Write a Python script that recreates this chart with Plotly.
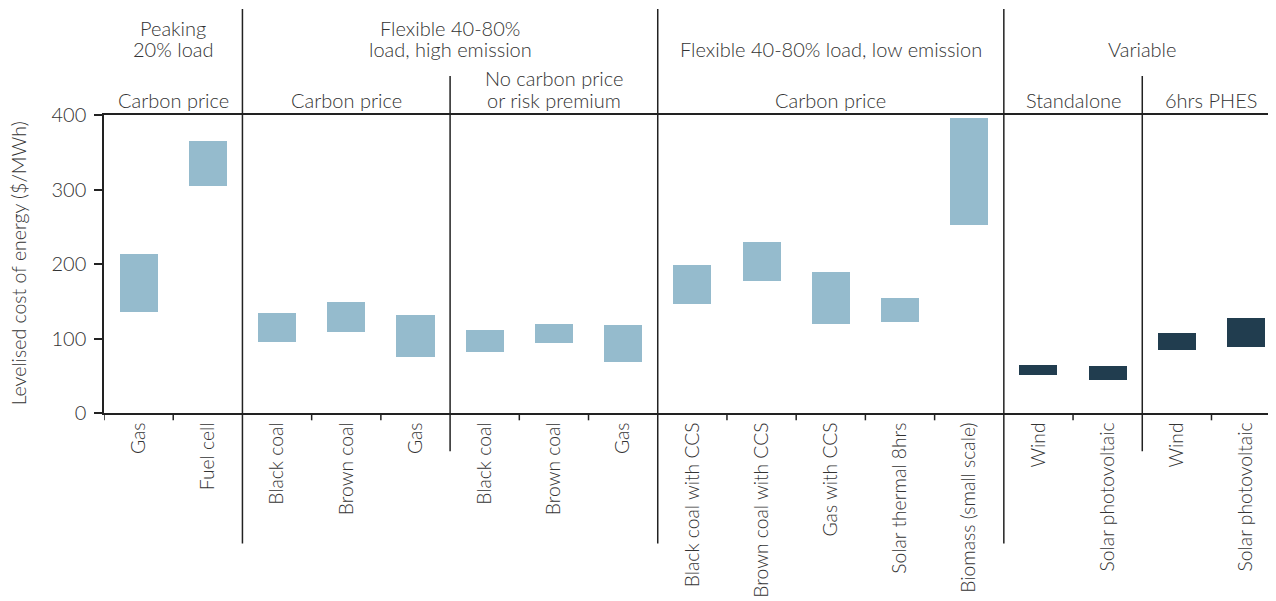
import plotly.graph_objects as go

categories = ["Gas", "Fuel cell",
              "Black coal", "Brown coal", "Gas",
              "Black coal", "Brown coal", "Gas",
              "Black coal with CCS", "Brown coal with CCS", "Gas with CCS",
              "Solar thermal 8hrs", "Biomass (small scale)",
              "Wind", "Solar photovoltaic",
              "Wind", "Solar photovoltaic"]
low_values = [135, 305, 95, 109, 75, 82, 94, 68, 146, 177, 119, 122, 252, 51, 44, 85, 89]
high_values = [213, 365, 134, 149, 131, 111, 120, 118, 198, 229, 189, 155, 396, 64, 63, 107, 128]
is_variable = [False] * 13 + [True] * 4

top_groups = [("Peaking<br>20% load", 0, 1),
              ("Flexible 40-80%<br>load, high emission", 2, 7),
              ("Flexible 40-80% load, low emission", 8, 12),
              ("Variable", 13, 16)]
sub_groups = [("Carbon price", 0, 1),
              ("Carbon price", 2, 4),
              ("No carbon price<br>or risk premium", 5, 7),
              ("Carbon price", 8, 12),
              ("Standalone", 13, 14),
              ("6hrs PHES", 15, 16)]
y_ticks = [0, 100, 200, 300, 400]

LIGHT = "#95BBCD"
DARK = "#213D4F"
INK = "#333333"
LINE = "#222222"
FONT = "Lato"
FS = 20
FW = 300

# the page body adds an 8px margin; the figure is sized so that it fills the window
OFF = 8
W, H = 1276 - OFF, 601 - OFF
PLOT_LEFT = 104.3          # in window pixels
PLOT_TOP, PLOT_BOTTOM = 115, 412.7
PH = PLOT_BOTTOM - PLOT_TOP
PW = 1276 - PLOT_LEFT
CAT_W = 69.2


def py(p):
    """window pixel row -> paper y"""
    return (PLOT_BOTTOM - p) / PH


def fnt(size=FS):
    return dict(size=size, color=INK, family=FONT, weight=FW)


xs = list(range(len(categories)))
fig = go.Figure()
fig.add_trace(go.Bar(
    x=xs,
    y=[h - l for h, l in zip(high_values, low_values)],
    base=low_values,
    width=0.55,
    marker=dict(color=[DARK if v else LIGHT for v in is_variable], line=dict(width=0)),
    showlegend=False,
))

shapes = []
n = len(categories)
main_seps = [g[1] - 0.5 for g in top_groups[1:]]
sub_seps = [4.5, 14.5]
for i in range(n + 1):
    b = i - 0.5
    if b in main_seps:
        y0, y1 = py(543), py(9)
    elif b in sub_seps:
        y0, y1 = py(451), py(76)
    else:
        y0, y1 = py(420), 0
    shapes.append(dict(type="line", xref="x", yref="paper", x0=b, x1=b, y0=y0, y1=y1,
                       line=dict(color=LINE, width=1.5)))

annotations = []


def add_header(groups, line_rows):
    for text, a, b in groups:
        lines = text.split("<br>")
        rows = line_rows[-len(lines):]
        for line, row in zip(lines, rows):
            annotations.append(dict(text=line, xref="x", yref="paper", x=(a + b) / 2,
                                    y=py(row), xanchor="center", yanchor="middle",
                                    showarrow=False, font=fnt()))


add_header(top_groups, [28, 49])
add_header(sub_groups, [78, 100])
annotations.append(dict(text="Levelised cost of energy ($/MWh)", xref="paper", yref="paper",
                        x=(18.5 - PLOT_LEFT) / PW, y=py(263), textangle=-90,
                        xanchor="center", yanchor="middle", showarrow=False,
                        font=fnt(19.5)))

fig.update_layout(
    width=W, height=H,
    margin=dict(l=PLOT_LEFT - OFF, r=0, t=PLOT_TOP - OFF, b=H - (PLOT_BOTTOM - OFF),
                autoexpand=False),
    plot_bgcolor="white", paper_bgcolor="white",
    font=fnt(),
    bargap=0,
    shapes=shapes,
    annotations=annotations,
    xaxis=dict(
        range=[-0.5, -0.5 + PW / CAT_W],
        tickmode="array", tickvals=xs, ticktext=categories,
        tickangle=-90, ticks="", showgrid=False, zeroline=False,
        showline=True, linecolor=LINE, linewidth=1.5, mirror=True,
        tickfont=fnt(19.3), automargin=False,
        ticklabelstandoff=0,
    ),
    yaxis=dict(
        range=[0, 400], tickmode="array", tickvals=y_ticks,
        ticks="outside", ticklen=8, tickcolor=LINE, tickwidth=1.5,
        showgrid=False, zeroline=False, showline=True, linecolor=LINE, linewidth=1.5,
        tickfont=fnt(), automargin=False,
        ticklabelstandoff=4,
    ),
)

fig.write_html("out.html")
